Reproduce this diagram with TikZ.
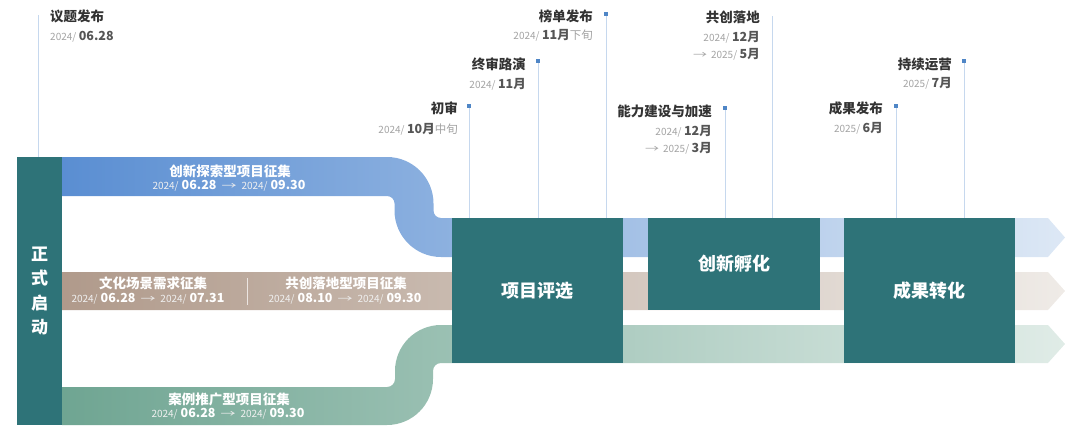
\documentclass[tikz,border=0pt]{standalone}
\usepackage{fontspec}
\usepackage{graphicx}
\setmainfont{Noto Sans CJK SC}
\definecolor{tealbox}{HTML}{2E7378}
\definecolor{blueL}{HTML}{5A8ED2}
\definecolor{blueR}{HTML}{DDE8F5}
\definecolor{beigeL}{HTML}{B09A8B}
\definecolor{beigeR}{HTML}{EFEBE7}
\definecolor{greenL}{HTML}{6FA592}
\definecolor{greenR}{HTML}{E0ECE7}
\definecolor{titlec}{HTML}{333333}
\definecolor{yearc}{HTML}{A3A3A3}
\definecolor{valc}{HTML}{555555}
\definecolor{vlinec}{HTML}{C6D8EE}
\definecolor{markc}{HTML}{4F86C6}
\newcommand\yr[1]{{\fontsize{10}{12}\selectfont\color{yearc}#1}\hspace{2.5pt}}
\newcommand\vl[1]{{\fontsize{12.5}{14}\selectfont\bfseries\color{valc}#1}}
\newcommand\xun[1]{{\fontsize{11.5}{13}\selectfont\color{yearc}#1}}
\newcommand\byr[1]{{\fontsize{10}{12}\selectfont\color{white!88!gray}#1}\hspace{3pt}}
\newcommand\bvl[1]{{\fontsize{12.5}{14}\selectfont\bfseries\color{white}#1}}
\newcommand\arr{{\fontsize{10}{12}\selectfont\color{yearc}\scalebox{1.4}[1]{→}}\hspace{4pt}}
\newcommand\barr{\hspace{5pt}{\fontsize{10}{12}\selectfont\color{white!85!gray}\scalebox{1.5}[1]{→}}\hspace{5pt}}
\begin{document}
\begin{tikzpicture}[x=1pt,y=-1pt,
  box/.style={fill=tealbox, text=white, inner sep=0pt,
    font=\fontsize{18}{20}\selectfont\bfseries},
  ttl/.style={inner sep=0pt, text=titlec, font=\fontsize{13.5}{15}\selectfont\bfseries},
  dte/.style={inner sep=0pt},
  btl/.style={inner sep=0pt, text=white, font=\fontsize{13.5}{15}\selectfont\bfseries},
  vline/.style={draw=vlinec, line width=1pt},
  marker/.style={fill=markc, minimum size=4.5pt, inner sep=0pt}]
\useasboundingbox (0,0) rectangle (1080,431);
% bands
\shade[left color=blueL, right color=blueR]
  (62,157) -- (387,157) arc[start angle=-90, end angle=0, radius=46.5]
  -- (433.5,210.5) arc[start angle=180, end angle=90, radius=7.5]
  -- (1048,218) -- (1065,237.5) -- (1048,257) -- (441,257)
  arc[start angle=90, end angle=180, radius=46.5]
  -- (394.5,203.5) arc[start angle=0, end angle=-90, radius=7.5]
  -- (62,196) -- cycle;
\shade[left color=beigeL, right color=beigeR]
  (62,272) -- (1048,272) -- (1065,291) -- (1048,310) -- (62,310) -- cycle;
\shade[left color=greenL, right color=greenR]
  (62,387) -- (387,387) arc[start angle=90, end angle=0, radius=8]
  -- (395,371) arc[start angle=180, end angle=270, radius=46]
  -- (1048,325) -- (1065,344) -- (1048,363) -- (441,363)
  arc[start angle=270, end angle=180, radius=8]
  -- (433,379) arc[start angle=0, end angle=90, radius=46]
  -- (62,425) -- cycle;
% left bar
\node (start) [box, minimum width=45pt, minimum height=268pt, align=center,
  font=\fontsize{17}{24.3}\selectfont\bfseries] at (39.5,291) {正\\式\\启\\动};
% boxes
\node (b1) [box, minimum width=171pt, minimum height=145pt] at (537.5,290.5) {项目评选};
\node (b2) [box, minimum width=172pt, minimum height=92pt] at (734,264) {创新孵化};
\node (b3) [box, minimum width=171pt, minimum height=145pt] at (929.5,290.5) {成果转化};
% timeline lines
\coordinate (t0) at (38,15);
\draw[vline] (t0) -- (t0 |- start.north);
\node (m1) [marker] at (469,106) {};
\draw[vline] (m1) -- (m1 |- b1.north);
\node (m2) [marker] at (538,61) {};
\draw[vline] (m2) -- (m2 |- b1.north);
\node (m3) [marker] at (606,14) {};
\draw[vline] (m3) -- (m3 |- b1.north);
\node (m4) [marker] at (725,108) {};
\draw[vline] (m4) -- (m4 |- b2.north);
\coordinate (t5) at (772,16);
\draw[vline] (t5) -- (t5 |- b2.north);
\node (m6) [marker] at (896,106) {};
\draw[vline] (m6) -- (m6 |- b3.north);
\node (m7) [marker] at (964,61) {};
\draw[vline] (m7) -- (m7 |- b3.north);
% timeline labels
\node (l0) [ttl, anchor=west] at (50,16) {议题发布};
\node (d0) [dte, anchor=west] at (50,37) {\yr{2024/}\vl{06.28}};
\node (l1) [ttl, anchor=east] at (458,108) {初审};
\node (d1) [dte, anchor=east] at (458,129) {\yr{2024/}\vl{10月}\xun{中旬}};
\node (l2) [ttl, anchor=east] at (526,64) {终审路演};
\node (d2) [dte, anchor=east] at (526,84) {\yr{2024/}\vl{11月}};
\node (l3) [ttl, anchor=east] at (593,16) {榜单发布};
\node (d3) [dte, anchor=east] at (593,35) {\yr{2024/}\vl{11月}\xun{下旬}};
\node (l4) [ttl, anchor=east] at (712,111) {能力建设与加速};
\node (d4a) [dte, anchor=east] at (712,131) {\yr{2024/}\vl{12月}};
\node (d4b) [dte, anchor=east] at (712,148) {\arr\yr{2025/}\vl{3月}};
\node (l5) [ttl, anchor=east] at (760,17) {共创落地};
\node (d5a) [dte, anchor=east] at (760,37) {\yr{2024/}\vl{12月}};
\node (d5b) [dte, anchor=east] at (760,54) {\arr\yr{2025/}\vl{5月}};
\node (l6) [ttl, anchor=east] at (883,108) {成果发布};
\node (d6) [dte, anchor=east] at (883,128) {\yr{2025/}\vl{6月}};
\node (l7) [ttl, anchor=east] at (952,64) {持续运营};
\node (d7) [dte, anchor=east] at (952,83) {\yr{2025/}\vl{7月}};
% band labels
\node (bt1) [btl] at (230,171) {创新探索型项目征集};
\node (bd1) [dte] at (229,186) {\byr{2024/}\bvl{06.28}\barr\byr{2024/}\bvl{09.30}};
\node (bt2) [btl] at (153,283) {文化场景需求征集};
\node (bd2) [dte] at (148,299) {\byr{2024/}\bvl{06.28}\barr\byr{2024/}\bvl{07.31}};
\coordinate (s1) at (247,278);
\coordinate (s2) at (247,305);
\draw[white, opacity=0.7, line width=0.8pt] (s1) -- (s2);
\node (bt3) [btl] at (346,283) {共创落地型项目征集};
\node (bd3) [dte] at (345,299) {\byr{2024/}\bvl{08.10}\barr\byr{2024/}\bvl{09.30}};
\node (bt4) [btl] at (229,399) {案例推广型项目征集};
\node (bd4) [dte] at (228,414) {\byr{2024/}\bvl{06.28}\barr\byr{2024/}\bvl{09.30}};
\end{tikzpicture}
\end{document}
